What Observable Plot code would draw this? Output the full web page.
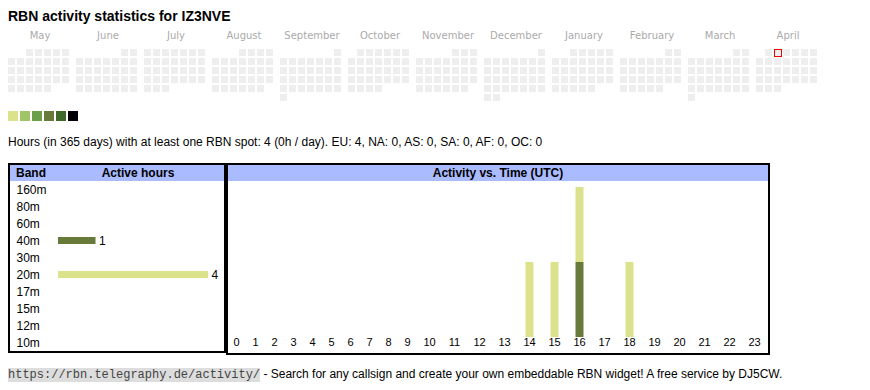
<!DOCTYPE html>
<html><head><meta charset="utf-8">
<script src="https://cdn.jsdelivr.net/npm/d3@7"></script>
<script src="https://cdn.jsdelivr.net/npm/@observablehq/plot@0.6"></script>
<style>
body{margin:0;background:#fff;font-family:"Liberation Sans",Arial,sans-serif;color:#000;}
#root{position:relative;width:870px;height:390px;overflow:hidden;}
.abs{position:absolute;}
#title{left:8px;top:9px;font-size:14px;font-weight:bold;line-height:14px;white-space:nowrap;}
#stats{left:8px;top:136px;font-size:12px;line-height:13px;white-space:nowrap;}
.box{position:absolute;border:2px solid #000;box-sizing:border-box;}
.hdr{height:16px;background:#aabbff;font-size:12px;font-weight:bold;line-height:16px;position:relative;white-space:nowrap;}
#footer{left:8px;top:367px;font-size:12px;line-height:14px;white-space:nowrap;}
#footer .url{font-family:"Liberation Mono",monospace;font-size:12px;background:#ddd;color:#444;}
svg{display:block;overflow:visible;}
</style></head>
<body><div id="root">
<div id="title" class="abs"></div>
<div id="cal" class="abs" style="left:0;top:24px"></div>
<div id="legend" class="abs" style="left:0;top:111px"></div>
<div id="stats" class="abs"></div>
<div class="box" style="left:8px;top:163px;width:218px;height:190px">
  <div class="hdr"><span style="position:absolute;left:6px">Band</span><span style="position:absolute;left:128px;transform:translateX(-50%)">Active hours</span></div>
  <div id="bands"></div>
</div>
<div class="box" style="left:226px;top:163px;width:544px;height:192px">
  <div class="hdr" style="text-align:center" id="hourHdr"></div>
  <div id="hours"></div>
</div>
<div id="footer" class="abs"><span class="url">https://rbn.telegraphy.de/activity/</span> - Search for any callsign and create your own embeddable RBN widget! A free service by DJ5CW.</div>
</div>
<script>
// ---- data ----
const callsign = "IZ3NVE";
const monthNames = ["May","June","July","August","September","October","November","December","January","February","March","April"];
const periodStart = "2024-05-01";
const periodEnd = "2025-05-01";
const today = "2025-04-02";
const legendColors = ["#dbe28b","#a0c468","#6aa049","#677a3a","#3e6a2b","#000000"];
const totalHours = 4;
const hoursPerDay = 0;
const continents = ["EU","NA","AS","SA","AF","OC"];
const continentHours = [4,0,0,0,0,0];
const bands = ["160m","80m","60m","40m","30m","20m","17m","15m","12m","10m"];
const bandHours = [0,0,0,1,0,4,0,0,0,0];
const bandColors = {"40m":"#677a3a","20m":"#dbe28b"};
const hours = d3.range(24);
const activityHour = [16,14,15,16,18];
const activityBand = ["40m","20m","20m","20m","20m"];
const activityCount = [1,1,1,1,1];

// ---- text ----
document.getElementById("title").textContent = "RBN activity statistics for " + callsign;
document.getElementById("stats").textContent =
  `Hours (in 365 days) with at least one RBN spot: ${totalHours} (${hoursPerDay}h / day). ` +
  continents.map((c,i)=>`${c}: ${continentHours[i]}`).join(", ");
document.getElementById("hourHdr").textContent = "Activity vs. Time (UTC)";

// ---- calendar ----
const days = d3.utcDay.range(new Date(periodStart), new Date(periodEnd)).map(d => {
  const first = new Date(Date.UTC(d.getUTCFullYear(), d.getUTCMonth(), 1));
  const fdow = (first.getUTCDay()+6)%7;
  return {
    key: d.toISOString().slice(0,10),
    month: monthNames[(d.getUTCMonth()+8)%12],
    dow: (d.getUTCDay()+6)%7,
    week: Math.floor((d.getUTCDate()-1+fdow)/7)
  };
});
const dayFill = d => "#eeeeee";
const cal = Plot.plot({
  width: 870, height: 79,
  marginTop: 25, marginBottom: 0, marginLeft: 8, marginRight: 51,
  style: {fontFamily: "'DejaVu Sans', Verdana, sans-serif", fontSize: "10px", background: "transparent"},
  fx: {domain: monthNames, paddingInner: 5/68, paddingOuter: 0, label: null},
  x: {type: "band", domain: d3.range(7), padding: 0, axis: null},
  y: {type: "band", domain: d3.range(6), padding: 0, axis: null},
  marks: [
    Plot.axisFx({anchor: "top", tickSize: 0, tickPadding: 11, color: "#aaaaaa", label: null, fontSize: 10}),
    Plot.cell(days, {fx: "month", x: "dow", y: "week", fill: dayFill, insetLeft: 0, insetTop: 0, insetRight: 2, insetBottom: 2}),
    Plot.cell(days.filter(d => d.key === today), {fx: "month", x: "dow", y: "week", fill: "none", stroke: "#ee0000", strokeWidth: 1,
      insetLeft: 0.5, insetTop: 0.5, insetRight: 1.5, insetBottom: 1.5})
  ]
});
document.getElementById("cal").append(cal);

// ---- legend ----
const leg = Plot.plot({
  width: 80, height: 10, margin: 0, marginLeft: 8,
  style: {background: "transparent"},
  x: {type: "band", domain: d3.range(legendColors.length), padding: 0, axis: null},
  marks: [Plot.cell(legendColors, {x: (d,i) => i, fill: d => d, insetLeft: 0, insetRight: 2, insetTop: 0, insetBottom: 0})]
});
document.getElementById("legend").append(leg);

// ---- band table ----
const bandData = bands.map((b,i) => ({band: b, hours: bandHours[i]})).filter(d => d.hours > 0);
const bandPlot = Plot.plot({
  width: 214, height: 170,
  marginTop: 0, marginBottom: 0, marginLeft: 48, marginRight: 16,
  style: {fontFamily: "'Liberation Sans', Arial, sans-serif", fontSize: "12px", background: "transparent", color: "#000"},
  x: {domain: [0, 4], range: [48, 198], axis: null},
  y: {type: "band", domain: bands, padding: 0, range: [0, 170]},
  marks: [
    Plot.axisY({anchor: "left", tickSize: 0, tickPadding: 42, textAnchor: "start", label: null, fontSize: 12}),
    Plot.barX(bandData, {x: "hours", y: "band", fill: d => bandColors[d.band], insetTop: 5, insetBottom: 5}),
    Plot.text(bandData, {x: "hours", y: "band", text: d => String(d.hours), textAnchor: "start", dx: 3, fontSize: 12})
  ]
});
document.getElementById("bands").append(bandPlot);

// ---- hour chart ----
const activity = activityHour.map((h,i) => ({hour: h, band: activityBand[i], n: activityCount[i]}));
const hourPlot = Plot.plot({
  width: 540, height: 172,
  marginTop: 6, marginBottom: 16, marginLeft: 0, marginRight: 0,
  style: {fontFamily: "'Liberation Sans', Arial, sans-serif", fontSize: "11px", background: "transparent", color: "#000"},
  x: {type: "linear", domain: [0, 9, 10, 23], range: [8, 179, 201, 526]},
  y: {domain: [0, 2], range: [156, 6], axis: null},
  marks: [
    Plot.ruleX(activity, Plot.stackY({x: "hour", y: "n", stroke: d => bandColors[d.band], strokeWidth: 8})),
    Plot.axisX({anchor: "bottom", ticks: hours, tickFormat: d => String(d), tickSize: 0, tickPadding: 1, label: null, fontSize: 11})
  ]
});
document.getElementById("hours").append(hourPlot);
</script>
</body></html>
